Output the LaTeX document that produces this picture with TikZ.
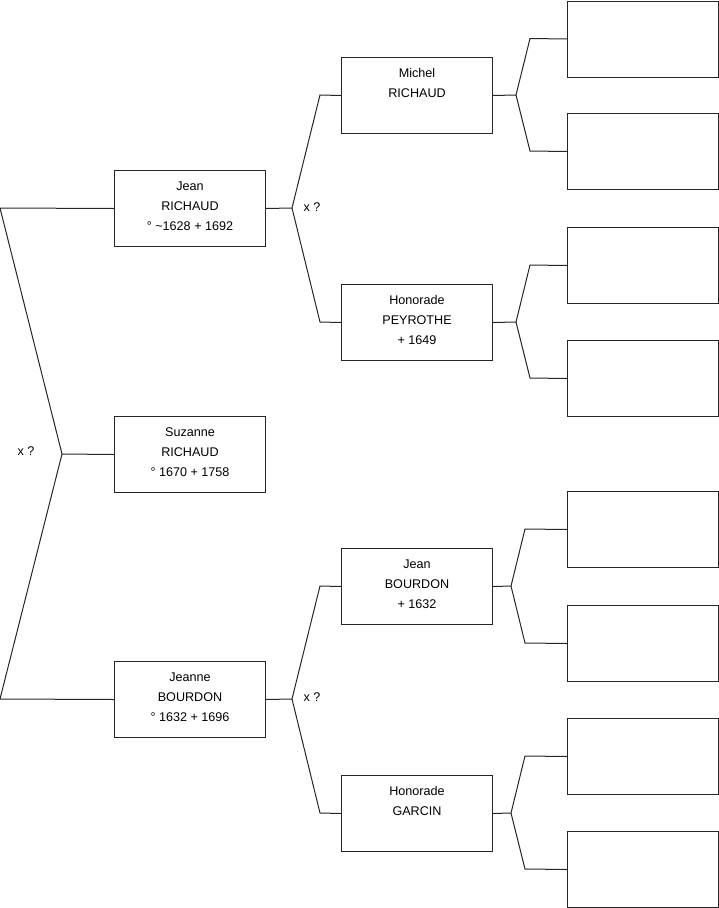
\documentclass[tikz,border=0pt]{standalone}
\usepackage{fontspec}
\setmainfont{Liberation Sans}
\begin{document}
\begin{tikzpicture}[x=1pt,y=-1pt,
  pbox/.style={draw=black!85, line width=1pt, minimum width=151pt, minimum height=76pt, inner sep=0pt, anchor=north west},
  ptext/.style={anchor=north, inner sep=0pt, align=center, font=\fontsize{12.6}{20}\selectfont},
  link/.style={draw=black!85, line width=1pt},
  xlab/.style={inner sep=0pt, font=\fontsize{12.6}{14}\selectfont}]
\useasboundingbox (0,0) rectangle (719,908);
% boxes
\node[pbox] (jr) at (114,170) {};
\node[pbox] (su) at (114,416) {};
\node[pbox] (jb) at (114,661) {};
\node[pbox] (mr) at (341,57) {};
\node[pbox] (hp) at (341,284) {};
\node[pbox] (jbo) at (341,548) {};
\node[pbox] (hg) at (341,775) {};
\node[pbox] (e1) at (567,0.5) {};
\node[pbox] (e2) at (567,113) {};
\node[pbox] (e3) at (567,227) {};
\node[pbox] (e4) at (567,340) {};
\node[pbox] (e5) at (567,491) {};
\node[pbox] (e6) at (567,605) {};
\node[pbox] (e7) at (567,718) {};
\node[pbox] (e8) at (567,831) {};
% texts
\node[ptext] (jrt) at ([yshift=-11.5pt]jr.north) {Jean\\RICHAUD\\° \textasciitilde1628 + 1692};
\node[ptext] (sut) at ([yshift=-11.5pt]su.north) {Suzanne\\RICHAUD\\° 1670 + 1758};
\node[ptext] (jbt) at ([yshift=-11.5pt]jb.north) {Jeanne\\BOURDON\\° 1632 + 1696};
\node[ptext] (mrt) at ([yshift=-11.5pt]mr.north) {Michel\\RICHAUD};
\node[ptext] (hpt) at ([yshift=-11.5pt]hp.north) {Honorade\\PEYROTHE\\+ 1649};
\node[ptext] (jbot) at ([yshift=-11.5pt]jbo.north) {Jean\\BOURDON\\+ 1632};
\node[ptext] (hgt) at ([yshift=-11.5pt]hg.north) {Honorade\\GARCIN};
% x ? labels
\node[xlab] (x1) at (26,451) {x ?};
\node[xlab] (x2) at (312,207) {x ?};
\node[xlab] (x3) at (312,697) {x ?};
% coordinates
\coordinate (l1) at (0,208);
\coordinate (lv) at (62,454);
\coordinate (l2) at (0,699);
\coordinate (v1) at (292,208);
\coordinate (c1a) at (320,95);
\coordinate (c1b) at (320,322);
\coordinate (v2) at (292,699);
\coordinate (c2a) at (320,586);
\coordinate (c2b) at (320,813);
\coordinate (v3) at (516,95);
\coordinate (c3a) at (530,38.5);
\coordinate (c3b) at (530,151);
\coordinate (v4) at (516,322);
\coordinate (c4a) at (530,265);
\coordinate (c4b) at (530,378);
\coordinate (v5) at (511,586);
\coordinate (c5a) at (525,529);
\coordinate (c5b) at (525,643);
\coordinate (v6) at (511,813);
\coordinate (c6a) at (525,756);
\coordinate (c6b) at (525,869);
% connectors
\draw[link] (jr.west) -- (l1) -- (lv) -- (l2) -- (jb.west);
\draw[link] (lv) -- (su.west);
\draw[link] (jr.east) -- (v1);
\draw[link] (mr.west) -- (c1a) -- (v1) -- (c1b) -- (hp.west);
\draw[link] (jb.east) -- (v2);
\draw[link] (jbo.west) -- (c2a) -- (v2) -- (c2b) -- (hg.west);
\draw[link] (mr.east) -- (v3);
\draw[link] (e1.west) -- (c3a) -- (v3) -- (c3b) -- (e2.west);
\draw[link] (hp.east) -- (v4);
\draw[link] (e3.west) -- (c4a) -- (v4) -- (c4b) -- (e4.west);
\draw[link] (jbo.east) -- (v5);
\draw[link] (e5.west) -- (c5a) -- (v5) -- (c5b) -- (e6.west);
\draw[link] (hg.east) -- (v6);
\draw[link] (e7.west) -- (c6a) -- (v6) -- (c6b) -- (e8.west);
\end{tikzpicture}
\end{document}
